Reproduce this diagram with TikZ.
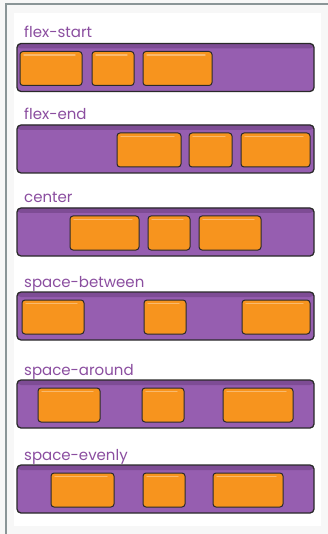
\documentclass[tikz,border=0pt]{standalone}
\usepackage{fontspec}
\setmainfont{Poppins}
\definecolor{barfill}{HTML}{965EB0}
\definecolor{barshade}{HTML}{7E4C95}
\definecolor{labelpurple}{HTML}{8B4EA0}
\definecolor{itemfill}{HTML}{F7941E}
\definecolor{inkline}{HTML}{2A2A2A}
\definecolor{framegray}{HTML}{8A9597}
\definecolor{pagegray}{HTML}{F7F7F7}
\begin{document}
\begin{tikzpicture}[x=1pt, y=-1pt,
  bar/.style={draw=inkline,line width=1.3pt,fill=barfill,rounded corners=4pt,
    minimum width=297pt,minimum height=48pt,inner sep=0pt,outer sep=0pt,
    path picture={\fill[barshade] (path picture bounding box.north west) rectangle ([yshift=-5pt]path picture bounding box.north east);}},
  item/.style={draw=inkline,line width=1pt,fill=itemfill,rounded corners=3pt,
    minimum height=34pt,inner sep=0pt,outer sep=0pt,
    path picture={\draw[white,opacity=.35,line width=1.4pt,line cap=round] ([xshift=4pt,yshift=-3.5pt]path picture bounding box.north west) -- ([xshift=-7pt,yshift=-3.5pt]path picture bounding box.north east);}},
  title/.style={anchor=base west,inner sep=0pt,text=labelpurple,font=\fontsize{15}{17}\selectfont}]
\useasboundingbox (0,0) rectangle (328,534);
% page frame
\fill[pagegray] (0,0) rectangle (328,534);
\fill[white] (14,13) rectangle (321,526);
\draw[framegray,line width=2pt] (5.5,534) -- (5.5,4.5) -- (328,4.5);

% flex-start
\node[title] (fslabel) at (24,38) {flex-start};
\node[bar] (fsbar) at (165.5,67.5) {};
\node[item,minimum width=62pt] (fs1) at (51,68.5) {};
\node[item,minimum width=42pt] (fs2) at (113,68.5) {};
\node[item,minimum width=69pt] (fs3) at (177.5,68.5) {};

% flex-end
\node[title] (felabel) at (24,120) {flex-end};
\node[bar] (febar) at (165.5,149) {};
\node[item,minimum width=64pt] (fe1) at (149,150) {};
\node[item,minimum width=43pt] (fe2) at (210.5,150) {};
\node[item,minimum width=69pt] (fe3) at (275.5,150) {};

% center
\node[title] (celabel) at (24,203) {center};
\node[bar] (cebar) at (165.5,232) {};
\node[item,minimum width=69pt] (ce1) at (104.5,233) {};
\node[item,minimum width=42pt] (ce2) at (169,233) {};
\node[item,minimum width=62pt] (ce3) at (230,233) {};

% space-between
\node[title] (sblabel) at (24,287) {space-between};
\node[bar] (sbbar) at (165.5,316) {};
\node[item,minimum width=62pt] (sb1) at (53,317) {};
\node[item,minimum width=42pt] (sb2) at (165,317) {};
\node[item,minimum width=68pt] (sb3) at (276,317) {};

% space-around
\node[title] (salabel) at (24,375) {space-around};
\node[bar] (sabar) at (165.5,404) {};
\node[item,minimum width=62pt] (sa1) at (69,405) {};
\node[item,minimum width=42pt] (sa2) at (163,405) {};
\node[item,minimum width=70pt] (sa3) at (258,405) {};

% space-evenly
\node[title] (selabel) at (24,460) {space-evenly};
\node[bar] (sebar) at (165.5,489) {};
\node[item,minimum width=63pt] (se1) at (82.5,490) {};
\node[item,minimum width=42pt] (se2) at (164,490) {};
\node[item,minimum width=70pt] (se3) at (248,490) {};
\end{tikzpicture}
\end{document}
